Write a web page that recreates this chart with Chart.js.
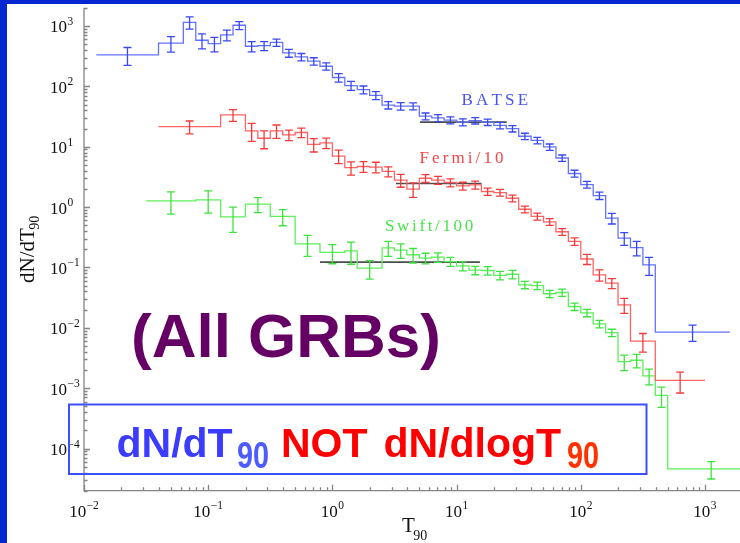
<!DOCTYPE html>
<html>
<head>
<meta charset="utf-8">
<script src="https://cdn.jsdelivr.net/npm/chart.js@4.4.1/dist/chart.umd.min.js"></script>
<style>
  html, body { margin: 0; padding: 0; background: #fff; }
  #wrap { position: relative; width: 740px; height: 543px; background: #fff; overflow: hidden; }
  #wrap canvas { position: absolute; left: 0; top: 0; }
  .edge { position: absolute; background: #0527d0; }
</style>
</head>
<body>
<div id="wrap">
  <canvas id="grb" width="740" height="543"></canvas>
  <div class="edge" style="left:0;top:0;width:740px;height:4px"></div>
  <div class="edge" style="left:0;top:0;width:7px;height:543px"></div>
</div>
<script>
// T90 bin edges (s), dN/dT90 per bin, fractional errors (sigma / value)
const BATSE_EDGES = [0.01259, 0.03981, 0.0631, 0.07943, 0.1, 0.1259, 0.1585, 0.1995, 0.2512, 0.3162, 0.3981,
  0.5012, 0.631, 0.7943, 1, 1.259, 1.585, 1.995, 2.512, 3.162, 3.981, 5.012, 6.31, 7.943, 10, 12.59, 15.85,
  19.95, 25.12, 31.62, 39.81, 50.12, 63.1, 79.43, 100, 125.9, 158.5, 199.5, 251.2, 316.2, 398.1, 1585];
const BATSE_VALS = [331, 518, 1151, 580, 509, 710, 1027, 461, 472, 533, 357, 307, 261, 215, 140, 103, 88, 71,
  49, 47, 47, 32, 30, 27.5, 25.5, 27, 25.5, 22.5, 19.9, 14.9, 12.7, 9.9, 6.5, 3.6, 2.36, 1.55, 0.655, 0.305,
  0.213, 0.11, 0.0085];
const BATSE_ERR = [0.33, 0.29, 0.23, 0.28, 0.27, 0.2, 0.15, 0.19, 0.17, 0.14, 0.15, 0.14, 0.14, 0.14, 0.16,
  0.17, 0.15, 0.15, 0.14, 0.14, 0.13, 0.13, 0.13, 0.13, 0.13, 0.12, 0.12, 0.12, 0.12, 0.12, 0.12, 0.12, 0.12,
  0.13, 0.13, 0.14, 0.2, 0.24, 0.27, 0.33, 0.3];

const FERMI_EDGES = [0.03981, 0.1259, 0.1995, 0.2512, 0.3162, 0.3981, 0.5012, 0.631, 0.7943, 1, 1.259, 1.585,
  1.995, 2.512, 3.162, 3.981, 5.012, 6.31, 7.943, 10, 12.59, 15.85, 19.95, 25.12, 31.62, 39.81, 50.12, 63.1,
  79.43, 100, 125.9, 158.5, 199.5, 251.2, 398.1, 1000];
const FERMI_VALS = [21.5, 33.6, 18.3, 13.8, 18.3, 15.7, 17.2, 10.9, 11.6, 7.0, 4.5, 4.7, 4.6, 3.9, 2.8, 1.98,
  3.0, 2.8, 2.55, 2.24, 2.33, 1.81, 1.74, 1.4, 0.92, 0.7, 0.57, 0.39, 0.27, 0.138, 0.075, 0.055, 0.024,
  0.006, 0.00134];
const FERMI_ERR = [0.24, 0.22, 0.33, 0.33, 0.25, 0.2, 0.18, 0.25, 0.2, 0.25, 0.25, 0.2, 0.2, 0.19, 0.24, 0.27,
  0.15, 0.15, 0.15, 0.15, 0.15, 0.14, 0.13, 0.13, 0.13, 0.13, 0.13, 0.13, 0.14, 0.19, 0.21, 0.19, 0.28, 0.34,
  0.38];

const SWIFT_EDGES = [0.03162, 0.07943, 0.1259, 0.1995, 0.3162, 0.5012, 0.7943, 1.259, 1.585, 2.512, 3.162,
  3.981, 5.012, 6.31, 7.943, 10, 12.59, 15.85, 19.95, 25.12, 31.62, 39.81, 50.12, 63.1, 79.43, 100, 125.9,
  158.5, 199.5, 251.2, 316.2, 398.1, 501.2, 2512];
const SWIFT_VALS = [1.27, 1.32, 0.69, 1.12, 0.7, 0.246, 0.177, 0.188, 0.097, 0.211, 0.193, 0.162, 0.143, 0.148,
  0.125, 0.106, 0.09, 0.089, 0.074, 0.077, 0.0515, 0.05, 0.0366, 0.0384, 0.0225, 0.0177, 0.0116, 0.0083,
  0.00274, 0.0029, 0.0016, 0.00076, 0.000046];
const SWIFT_ERR = [0.4, 0.4, 0.45, 0.28, 0.3, 0.38, 0.35, 0.4, 0.34, 0.28, 0.27, 0.27, 0.2, 0.18, 0.17, 0.17,
  0.16, 0.16, 0.16, 0.16, 0.14, 0.14, 0.14, 0.14, 0.14, 0.14, 0.14, 0.14, 0.29, 0.25, 0.29, 0.37, 0.32];

// flat segments drawn over the histograms: [t start, t end], level
const BATSE_FLAT_T = [5.07, 25.3], BATSE_FLAT_Y = 25.5;
const FERMI_FLAT_T = [3.25, 15.9], FERMI_FLAT_Y = 2.45;
const SWIFT_FLAT_T = [0.794, 15.4], SWIFT_FLAT_Y = 0.1225;

const X_DECADES = [-2, -1, 0, 1, 2, 3];
const Y_DECADES = [3, 2, 1, 0, -1, -2, -3, -4];

const SERIES = [
  { edges: BATSE_EDGES, vals: BATSE_VALS, err: BATSE_ERR, line: '#6473ff', bar: '#3848f5' },
  { edges: FERMI_EDGES, vals: FERMI_VALS, err: FERMI_ERR, line: '#ff6464', bar: '#f23c3c' },
  { edges: SWIFT_EDGES, vals: SWIFT_VALS, err: SWIFT_ERR, line: '#5cf05c', bar: '#3ee23e' },
];

function steps(edges, vals) {
  const pts = vals.map((v, i) => ({ x: edges[i], y: v }));
  pts.push({ x: edges[edges.length - 1], y: vals[vals.length - 1] });
  return pts;
}
const flat = (t, y) => t.map((x) => ({ x, y }));

const SERIF = '"Liberation Serif", "DejaVu Serif", serif';
const SANS = '"Liberation Sans", Arial, sans-serif';

const errorBars = {
  id: 'errorBars',
  afterDatasetsDraw(chart) {
    const { ctx, chartArea: a, scales: { x, y } } = chart;
    ctx.save();
    ctx.beginPath(); ctx.rect(a.left, a.top, a.right - a.left, a.bottom - a.top); ctx.clip();
    ctx.lineWidth = 1.3;
    SERIES.forEach((s) => {
      ctx.strokeStyle = s.bar;
      s.vals.forEach((v, i) => {
        const px = x.getPixelForValue(Math.sqrt(s.edges[i] * s.edges[i + 1]));
        const hi = y.getPixelForValue(v * (1 + s.err[i]));
        const lo = y.getPixelForValue(v * (1 - s.err[i]));
        ctx.beginPath();
        ctx.moveTo(px, hi); ctx.lineTo(px, lo);
        ctx.moveTo(px - 4, hi); ctx.lineTo(px + 4, hi);
        ctx.moveTo(px - 4, lo); ctx.lineTo(px + 4, lo);
        ctx.stroke();
      });
    });
    ctx.restore();
  }
};

function spaced(ctx, str, x, y, gap) {
  for (const ch of str) { ctx.fillText(ch, x, y); x += ctx.measureText(ch).width + gap; }
}

function minorValues(min, max) {
  const out = [];
  for (let e = Math.floor(Math.log10(min)); e <= Math.ceil(Math.log10(max)); e++) {
    for (let m = 1; m < 10; m++) {
      const v = m * Math.pow(10, e);
      if (v >= min && v <= max) out.push({ v, major: m === 1 });
    }
  }
  return out;
}

const axesAndText = {
  id: 'axesAndText',
  afterDraw(chart) {
    const { ctx, chartArea: a, scales: { x, y } } = chart;
    ctx.save();
    // axes, ticks pointing inwards
    ctx.strokeStyle = '#858585'; ctx.lineWidth = 1.3;
    ctx.beginPath();
    ctx.moveTo(a.left, a.top); ctx.lineTo(a.left, a.bottom); ctx.lineTo(a.right, a.bottom);
    minorValues(y.min, y.max).forEach((t) => {
      const py = Math.round(y.getPixelForValue(t.v)) + 0.5;
      ctx.moveTo(a.left, py); ctx.lineTo(a.left + (t.major ? 6 : 3.5), py);
    });
    minorValues(x.min, x.max).forEach((t) => {
      const px = Math.round(x.getPixelForValue(t.v)) + 0.5;
      ctx.moveTo(px, a.bottom); ctx.lineTo(px, a.bottom - (t.major ? 6 : 3.5));
    });
    ctx.stroke();

    // tick labels 10^n
    ctx.fillStyle = '#111';
    ctx.textBaseline = 'alphabetic';
    const expText = (e) => (e < 0 ? '\u2212' + (-e) : String(e));
    Y_DECADES.forEach((e) => {
      const py = y.getPixelForValue(Math.pow(10, e));
      ctx.font = '17px ' + SERIF;
      ctx.fillText('10', 50, py + 6.5);
      const w = ctx.measureText('10').width;
      ctx.font = '11.5px ' + SERIF;
      ctx.fillText(expText(e), 50 + w + 0.5, py - 1);
    });
    X_DECADES.forEach((e) => {
      const px = x.getPixelForValue(Math.pow(10, e));
      ctx.font = '17px ' + SERIF;
      const w1 = ctx.measureText('10').width;
      ctx.font = '11.5px ' + SERIF;
      const w2 = ctx.measureText(expText(e)).width;
      const x0 = px - (w1 + w2 + 0.5) / 2;
      ctx.font = '17px ' + SERIF;
      ctx.fillText('10', x0, 516.5);
      ctx.font = '11.5px ' + SERIF;
      ctx.fillText(expText(e), x0 + w1 + 0.5, 508.5);
    });

    // axis titles
    ctx.font = '21px ' + SERIF;
    ctx.fillText('T', 402, 531.5);
    let tw = ctx.measureText('T').width;
    ctx.font = '14px ' + SERIF;
    ctx.fillText('90', 402 + tw - 1.5, 540);

    ctx.save();
    ctx.translate(34, 283);
    ctx.rotate(-Math.PI / 2);
    ctx.font = '21px ' + SERIF;
    ctx.fillText('dN/dT', 0, 0);
    tw = ctx.measureText('dN/dT').width;
    ctx.font = '14px ' + SERIF;
    ctx.fillText('90', tw - 1.5, 5);
    ctx.restore();

    // series labels
    ctx.font = '17px ' + SERIF;
    ctx.fillStyle = '#4654f2'; spaced(ctx, 'BATSE', 461.5, 105, 3.2);
    ctx.fillStyle = '#f24646'; spaced(ctx, 'Fermi/10', 419.5, 162.5, 3.1);
    ctx.fillStyle = '#48e448'; spaced(ctx, 'Swift/100', 385, 231, 2.65);

    // big annotations
    ctx.font = 'bold 62px ' + SANS;
    ctx.fillStyle = '#650065';
    ctx.fillText('(All GRBs)', 131, 356.5);

    ctx.strokeStyle = '#3a50ff'; ctx.lineWidth = 2;
    ctx.strokeRect(69, 404.5, 577.5, 69.5);

    const sub = (txt, color, px) => {
      ctx.save();
      ctx.font = 'bold 36px ' + SANS;
      ctx.fillStyle = color;
      ctx.translate(px, 468);
      ctx.scale(0.8, 1);
      ctx.fillText(txt, 0, 0);
      ctx.restore();
    };
    ctx.font = 'bold 41px ' + SANS;
    ctx.fillStyle = '#3c3cff'; ctx.fillText('dN/dT', 116.5, 457);
    sub('90', '#4d5cff', 237);
    ctx.font = 'bold 41px ' + SANS;
    ctx.fillStyle = '#ff0000'; ctx.fillText('NOT', 281, 457);
    ctx.fillText('dN/dlogT', 383.5, 457);
    sub('90', '#ff3300', 567);
    ctx.restore();
  }
};

const histo = (s) => ({
  data: steps(s.edges, s.vals), borderColor: s.line, borderWidth: 1.3,
  stepped: 'before', pointRadius: 0, fill: false, tension: 0,
});
const flatLine = (t, v) => ({
  data: flat(t, v), borderColor: '#4d4d4d', borderWidth: 1.6, pointRadius: 0, fill: false,
});

new Chart(document.getElementById('grb'), {
  type: 'line',
  data: {
    datasets: [
      ...SERIES.map(histo),
      flatLine(BATSE_FLAT_T, BATSE_FLAT_Y),
      flatLine(FERMI_FLAT_T, FERMI_FLAT_Y),
      flatLine(SWIFT_FLAT_T, SWIFT_FLAT_Y),
    ],
  },
  options: {
    responsive: false,
    devicePixelRatio: 1,
    animation: false,
    events: [],
    layout: { padding: { left: 84, top: 7.8, right: 0, bottom: 52.3 } },
    plugins: { legend: { display: false }, tooltip: { enabled: false } },
    scales: {
      x: { type: 'logarithmic', min: 0.01, max: 1914, bounds: 'data', display: false },
      y: { type: 'logarithmic', min: 2e-5, max: 2000, bounds: 'data', display: false },
    },
  },
  plugins: [errorBars, axesAndText],
});
</script>
</body>
</html>
